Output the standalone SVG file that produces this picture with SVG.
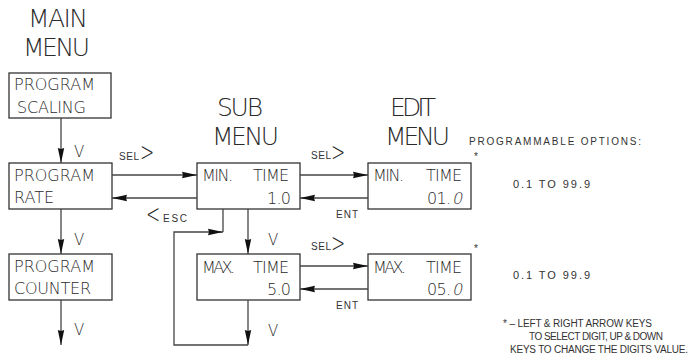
<svg xmlns="http://www.w3.org/2000/svg" width="692" height="359" viewBox="0 0 692 359">
<style>
text{font-family:'DejaVu Sans','Liberation Sans',sans-serif;font-weight:200;fill:#2a2a2a}
.t{font-size:25px}
.b{font-size:16px}
.s{font-family:'Liberation Sans',Arial,sans-serif;font-size:10px;font-weight:400;fill:#333}
.m{font-family:'Liberation Sans',Arial,sans-serif;font-size:10px;font-weight:400;fill:#333}
.k{font-size:15px}
.g{font-size:20px}
rect{fill:#fff;stroke:#333;stroke-width:1.3}
.c path{fill:none;stroke:#444;stroke-width:1.3}
</style>
<defs>
<marker id="ah" markerUnits="userSpaceOnUse" markerWidth="16" markerHeight="8" viewBox="-15 -4 16 8" refX="0" refY="0" orient="auto">
<path d="M0,0 L-15,-3.2 L-14,0 L-15,3.2 Z" fill="#111"/>
</marker>
</defs>

<g id="titles">
<text class="t" x="28" y="27" textLength="60">MAIN</text>
<text class="t" x="23" y="56" textLength="67">MENU</text>
<text class="t" x="217" y="116" textLength="46">SUB</text>
<text class="t" x="212" y="145" textLength="67">MENU</text>
<text class="t" x="390" y="116" textLength="46">EDIT</text>
<text class="t" x="385" y="145" textLength="65">MENU</text>
</g>

<g id="n-scaling">
<rect x="9" y="73" width="102" height="45"/>
<text class="b" x="14" y="90" textLength="81">PROGRAM</text>
<text class="b" x="17" y="113" textLength="69">SCALING</text>
</g>
<g id="n-rate">
<rect x="9" y="163" width="103" height="46"/>
<text class="b" x="14" y="181" textLength="81">PROGRAM</text>
<text class="b" x="14" y="203" textLength="40">RATE</text>
</g>
<g id="n-counter">
<rect x="9" y="254" width="103" height="46"/>
<text class="b" x="14" y="272" textLength="81">PROGRAM</text>
<text class="b" x="14" y="294" textLength="77">COUNTER</text>
</g>
<g id="n-min">
<rect x="197" y="163" width="103" height="46"/>
<text class="b" x="202" y="181" textLength="31">MIN.</text>
<text class="b" x="253" y="181" textLength="36">TIME</text>
<text class="b" x="267" y="204" textLength="24">1.0</text>
</g>
<g id="n-max">
<rect x="197" y="254" width="103" height="46"/>
<text class="b" x="202" y="273" textLength="33">MAX.</text>
<text class="b" x="253" y="273" textLength="36">TIME</text>
<text class="b" x="267" y="295" textLength="24">5.0</text>
</g>
<g id="n-edit-min">
<rect x="368" y="163" width="103" height="46"/>
<text class="b" x="373" y="181" textLength="31">MIN.</text>
<text class="b" x="426" y="181" textLength="36">TIME</text>
<text class="b" x="427" y="204" textLength="24">01.</text>
<text class="b" transform="translate(452,204) skewX(-12)" x="0" y="0">0</text>
</g>
<g id="n-edit-max">
<rect x="368" y="254" width="103" height="46"/>
<text class="b" x="373" y="273" textLength="33">MAX.</text>
<text class="b" x="426" y="273" textLength="36">TIME</text>
<text class="b" x="427" y="295" textLength="24">05.</text>
<text class="b" transform="translate(452,295) skewX(-12)" x="0" y="0">0</text>
</g>

<g class="c" id="connectors">
<path d="M61,118 V163" marker-end="url(#ah)"/>
<path d="M61,209 V254" marker-end="url(#ah)"/>
<path d="M61,300 V345" marker-end="url(#ah)"/>
<path d="M112,175 H197" marker-end="url(#ah)"/>
<path d="M197,198 H112" marker-end="url(#ah)"/>
<path d="M248,209 V254" marker-end="url(#ah)"/>
<path d="M248,300 V345" marker-end="url(#ah)"/>
<path d="M248,345 H174 V232 H223" marker-end="url(#ah)"/>
<path d="M223,232 V209"/>
<path d="M300,175 H368" marker-end="url(#ah)"/>
<path d="M368,198 H300" marker-end="url(#ah)"/>
<path d="M300,266 H368" marker-end="url(#ah)"/>
<path d="M368,289 H300" marker-end="url(#ah)"/>
</g>

<g id="labels">
<text class="k" x="74" y="157">V</text>
<text class="k" x="74" y="245">V</text>
<text class="k" x="74" y="335">V</text>
<text class="k" x="268" y="245">V</text>
<text class="k" x="268" y="336">V</text>
<text class="s" x="119" y="160" textLength="20">SEL</text>
<text class="g" transform="translate(140,161) scale(0.85,1.3)">&gt;</text>
<text class="g" transform="translate(146,223) scale(0.85,1.3)">&lt;</text>
<text class="s" x="163" y="222" textLength="24">ESC</text>
<text class="s" x="311" y="159" textLength="20">SEL</text>
<text class="g" transform="translate(331,161) scale(0.85,1.3)">&gt;</text>
<text class="s" x="336" y="218" textLength="22">ENT</text>
<text class="s" x="311" y="250" textLength="20">SEL</text>
<text class="g" transform="translate(331,252) scale(0.85,1.3)">&gt;</text>
<text class="s" x="336" y="309" textLength="22">ENT</text>
</g>

<g id="notes">
<text class="s" x="469" y="145" textLength="172">PROGRAMMABLE OPTIONS:</text>
<text class="s" x="474" y="160">*</text>
<text class="m" style="font-size:11px" x="513" y="188" textLength="77">0.1 TO 99.9</text>
<text class="s" x="474" y="252">*</text>
<text class="m" style="font-size:11px" x="513" y="279" textLength="77">0.1 TO 99.9</text>
<text class="m" x="503" y="327" textLength="149">* – LEFT &amp; RIGHT ARROW KEYS</text>
<text class="m" x="529" y="340" textLength="134">TO SELECT DIGIT, UP &amp; DOWN</text>
<text class="m" x="510" y="353" textLength="178">KEYS TO CHANGE THE DIGITS VALUE.</text>
</g>
</svg>
